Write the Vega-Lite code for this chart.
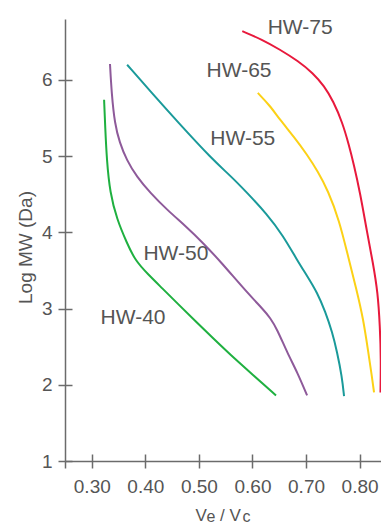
{
  "$schema": "https://vega.github.io/schema/vega-lite/v6.json",
  "width": 316,
  "height": 442,
  "autosize": "none",
  "padding": {"left": 65, "top": 19, "right": 0, "bottom": 63},
  "background": "white",
  "config": {
    "view": {"stroke": null},
    "font": "Liberation Sans",
    "axis": {"grid": false, "domainColor": "#6b6b6b", "tickColor": "#6b6b6b", "domainWidth": 1.5, "tickWidth": 1.5, "labelColor": "#555555", "titleColor": "#555555", "titleFontWeight": "normal"}
  },
  "datasets": {
    "curves": [
      {"series": "HW-40", "i": 1, "x": 0.323, "y": 5.74},
      {"series": "HW-40", "i": 2, "x": 0.325, "y": 5.39},
      {"series": "HW-40", "i": 3, "x": 0.328, "y": 4.95},
      {"series": "HW-40", "i": 4, "x": 0.334, "y": 4.52},
      {"series": "HW-40", "i": 5, "x": 0.347, "y": 4.17},
      {"series": "HW-40", "i": 6, "x": 0.365, "y": 3.87},
      {"series": "HW-40", "i": 7, "x": 0.381, "y": 3.63},
      {"series": "HW-40", "i": 8, "x": 0.405, "y": 3.45},
      {"series": "HW-40", "i": 9, "x": 0.431, "y": 3.27},
      {"series": "HW-40", "i": 10, "x": 0.461, "y": 3.06},
      {"series": "HW-40", "i": 11, "x": 0.493, "y": 2.84},
      {"series": "HW-40", "i": 12, "x": 0.525, "y": 2.62},
      {"series": "HW-40", "i": 13, "x": 0.558, "y": 2.40},
      {"series": "HW-40", "i": 14, "x": 0.601, "y": 2.13},
      {"series": "HW-40", "i": 15, "x": 0.644, "y": 1.86},

      {"series": "HW-50", "i": 1, "x": 0.334, "y": 6.21},
      {"series": "HW-50", "i": 2, "x": 0.337, "y": 5.83},
      {"series": "HW-50", "i": 3, "x": 0.343, "y": 5.42},
      {"series": "HW-50", "i": 4, "x": 0.352, "y": 5.18},
      {"series": "HW-50", "i": 5, "x": 0.365, "y": 4.95},
      {"series": "HW-50", "i": 6, "x": 0.384, "y": 4.73},
      {"series": "HW-50", "i": 7, "x": 0.409, "y": 4.52},
      {"series": "HW-50", "i": 8, "x": 0.440, "y": 4.30},
      {"series": "HW-50", "i": 9, "x": 0.477, "y": 4.07},
      {"series": "HW-50", "i": 10, "x": 0.508, "y": 3.86},
      {"series": "HW-50", "i": 11, "x": 0.540, "y": 3.62},
      {"series": "HW-50", "i": 12, "x": 0.590, "y": 3.21},
      {"series": "HW-50", "i": 13, "x": 0.620, "y": 2.99},
      {"series": "HW-50", "i": 14, "x": 0.633, "y": 2.88},
      {"series": "HW-50", "i": 15, "x": 0.646, "y": 2.73},
      {"series": "HW-50", "i": 16, "x": 0.665, "y": 2.42},
      {"series": "HW-50", "i": 17, "x": 0.684, "y": 2.16},
      {"series": "HW-50", "i": 18, "x": 0.702, "y": 1.86},

      {"series": "HW-55", "i": 1, "x": 0.366, "y": 6.20},
      {"series": "HW-55", "i": 2, "x": 0.412, "y": 5.83},
      {"series": "HW-55", "i": 3, "x": 0.459, "y": 5.46},
      {"series": "HW-55", "i": 4, "x": 0.526, "y": 4.95},
      {"series": "HW-55", "i": 5, "x": 0.558, "y": 4.75},
      {"series": "HW-55", "i": 6, "x": 0.590, "y": 4.52},
      {"series": "HW-55", "i": 7, "x": 0.627, "y": 4.24},
      {"series": "HW-55", "i": 8, "x": 0.657, "y": 3.96},
      {"series": "HW-55", "i": 9, "x": 0.683, "y": 3.64},
      {"series": "HW-55", "i": 10, "x": 0.702, "y": 3.43},
      {"series": "HW-55", "i": 11, "x": 0.721, "y": 3.21},
      {"series": "HW-55", "i": 12, "x": 0.736, "y": 2.96},
      {"series": "HW-55", "i": 13, "x": 0.749, "y": 2.69},
      {"series": "HW-55", "i": 14, "x": 0.758, "y": 2.43},
      {"series": "HW-55", "i": 15, "x": 0.767, "y": 2.11},
      {"series": "HW-55", "i": 16, "x": 0.771, "y": 1.85},

      {"series": "HW-65", "i": 1, "x": 0.610, "y": 5.83},
      {"series": "HW-65", "i": 2, "x": 0.633, "y": 5.66},
      {"series": "HW-65", "i": 3, "x": 0.651, "y": 5.48},
      {"series": "HW-65", "i": 4, "x": 0.678, "y": 5.25},
      {"series": "HW-65", "i": 5, "x": 0.702, "y": 5.02},
      {"series": "HW-65", "i": 6, "x": 0.722, "y": 4.80},
      {"series": "HW-65", "i": 7, "x": 0.741, "y": 4.55},
      {"series": "HW-65", "i": 8, "x": 0.762, "y": 4.16},
      {"series": "HW-65", "i": 9, "x": 0.779, "y": 3.67},
      {"series": "HW-65", "i": 10, "x": 0.794, "y": 3.26},
      {"series": "HW-65", "i": 11, "x": 0.807, "y": 2.86},
      {"series": "HW-65", "i": 12, "x": 0.816, "y": 2.44},
      {"series": "HW-65", "i": 13, "x": 0.823, "y": 2.11},
      {"series": "HW-65", "i": 14, "x": 0.827, "y": 1.90},

      {"series": "HW-75", "i": 1, "x": 0.581, "y": 6.64},
      {"series": "HW-75", "i": 2, "x": 0.618, "y": 6.53},
      {"series": "HW-75", "i": 3, "x": 0.651, "y": 6.40},
      {"series": "HW-75", "i": 4, "x": 0.685, "y": 6.25},
      {"series": "HW-75", "i": 5, "x": 0.713, "y": 6.09},
      {"series": "HW-75", "i": 6, "x": 0.734, "y": 5.92},
      {"series": "HW-75", "i": 7, "x": 0.751, "y": 5.72},
      {"series": "HW-75", "i": 8, "x": 0.768, "y": 5.44},
      {"series": "HW-75", "i": 9, "x": 0.780, "y": 5.15},
      {"series": "HW-75", "i": 10, "x": 0.789, "y": 4.90},
      {"series": "HW-75", "i": 11, "x": 0.801, "y": 4.52},
      {"series": "HW-75", "i": 12, "x": 0.814, "y": 4.00},
      {"series": "HW-75", "i": 13, "x": 0.825, "y": 3.60},
      {"series": "HW-75", "i": 14, "x": 0.834, "y": 3.21},
      {"series": "HW-75", "i": 15, "x": 0.838, "y": 2.77},
      {"series": "HW-75", "i": 16, "x": 0.840, "y": 2.33},
      {"series": "HW-75", "i": 17, "x": 0.839, "y": 1.90}
    ],
    "labels": [
      {"label": "HW-75", "x": 0.689, "y": 6.68},
      {"label": "HW-65", "x": 0.575, "y": 6.12},
      {"label": "HW-55", "x": 0.582, "y": 5.22},
      {"label": "HW-50", "x": 0.457, "y": 3.71},
      {"label": "HW-40", "x": 0.377, "y": 2.88}
    ]
  },
  "resolve": {"axis": {"x": "independent", "y": "independent"}},
  "layer": [
    {
      "data": {"name": "curves"},
      "mark": {"type": "line", "strokeWidth": 2, "interpolate": "basis"},
      "encoding": {
        "x": {
          "field": "x", "type": "quantitative",
          "scale": {"domain": [0.25, 0.84], "nice": false, "zero": false},
          "axis": {
            "orient": "bottom",
            "values": [0.25, 0.3, 0.4, 0.5, 0.6, 0.7, 0.8],
            "format": ".2f",
            "labelExpr": "datum.value < 0.27 ? '' : datum.label",
            "tickSize": 7, "labelPadding": 9, "labelFontSize": 19,
            "title": "V\u2002 / V",
            "titleFontSize": 17,
            "titleAlign": "left",
            "titleBaseline": "alphabetic",
            "titleX": 130,
            "titleY": 59
          }
        },
        "y": {
          "field": "y", "type": "quantitative",
          "scale": {"domain": [1, 6.8], "nice": false, "zero": false},
          "axis": {
            "orient": "left",
            "values": [1, 2, 3, 4, 5, 6],
            "tickSize": 7, "labelPadding": 6, "labelFontSize": 19,
            "title": "Log MW (Da)",
            "titleFontSize": 19,
            "titlePadding": 6,
            "titleY": 228
          }
        },
        "color": {
          "field": "series", "type": "nominal",
          "scale": {"domain": ["HW-40", "HW-50", "HW-55", "HW-65", "HW-75"], "range": ["#1fb040", "#8e5a9a", "#1a9a9a", "#fcd116", "#e8193c"]},
          "legend": null
        },
        "order": {"field": "i", "type": "quantitative"}
      }
    },
    {
      "data": {"name": "labels"},
      "mark": {"type": "text", "fontSize": 21, "color": "#555555", "align": "center", "baseline": "middle"},
      "encoding": {
        "x": {
          "field": "x", "type": "quantitative",
          "axis": {
            "orient": "bottom", "offset": -7, "domain": false, "labels": false,
            "values": [0.3, 0.4, 0.5, 0.6, 0.7, 0.8], "tickSize": 7,
            "title": "e\u2002\u2002\u2002\u2009c",
            "titleFontSize": 16,
            "titleAlign": "left",
            "titleBaseline": "alphabetic",
            "titleX": 141,
            "titleY": 67
          }
        },
        "y": {
          "field": "y", "type": "quantitative",
          "axis": {
            "orient": "left", "offset": -7, "domain": false, "labels": false,
            "values": [1, 2, 3, 4, 5, 6], "tickSize": 7, "title": null
          }
        },
        "text": {"field": "label"}
      }
    }
  ]
}
